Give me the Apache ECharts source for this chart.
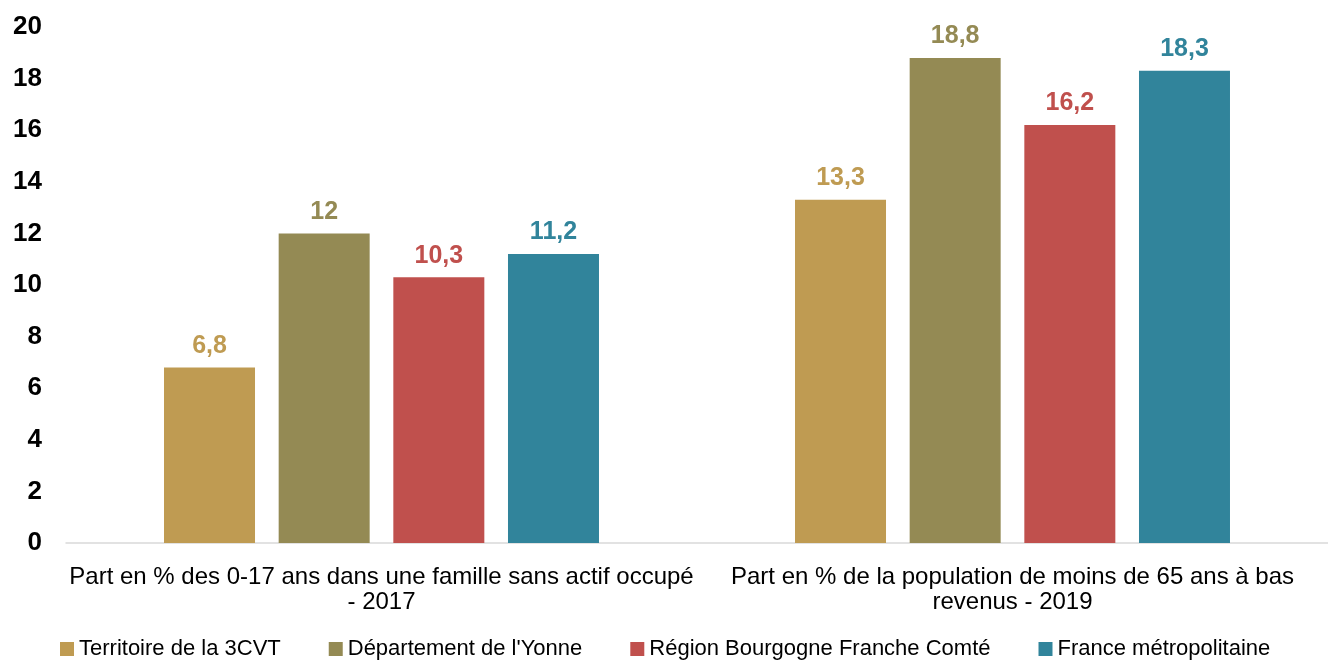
<!DOCTYPE html>
<html>
<head>
<meta charset="utf-8">
<script src="https://cdn.jsdelivr.net/npm/echarts@6/dist/echarts.min.js"></script>
<style>
  html, body { margin: 0; padding: 0; background: #ffffff; }
  #chart { width: 1328px; height: 662px; }
</style>
</head>
<body>
<div id="chart"></div>
<script>
// Indicator categories
const categories = [
  "Part en % des 0-17 ans dans une famille sans actif occupé\n- 2017",
  "Part en % de la population de moins de 65 ans à bas\nrevenus - 2019"
];

// One series per territory
const seriesNames = [
  "Territoire de la 3CVT",
  "Département de l'Yonne",
  "Région Bourgogne Franche Comté",
  "France métropolitaine"
];
const territoire3CVT = [6.8, 13.3];
const departementYonne = [12, 18.8];
const regionBFC = [10.3, 16.2];
const franceMetro = [11.2, 18.3];

const seriesColors = ["#BF9B52", "#948A54", "#C0504D", "#31849B"];
const seriesValues = [territoire3CVT, departementYonne, regionBFC, franceMetro];

const fmt = v => String(v).replace(".", ",");

const chart = echarts.init(document.getElementById("chart"));
chart.setOption({
  animation: false,
  textStyle: { fontFamily: "Liberation Sans, Arial, sans-serif" },
  legend: {
    top: 633,
    left: 55,
    itemWidth: 14,
    itemHeight: 14,
    itemGap: 48,
    icon: "rect",
    textStyle: { fontSize: 22, color: "#000", padding: [0, 0, 0, 0] },
    data: seriesNames
  },
  grid: { left: 66, top: 27, width: 1270, height: 516, containLabel: false },
  xAxis: {
    type: "category",
    data: categories,
    axisLine: { lineStyle: { color: "#d9d9d9", width: 1.5 } },
    axisTick: { show: false },
    axisLabel: { fontSize: 24, color: "#000", lineHeight: 25, margin: 22, interval: 0 }
  },
  yAxis: {
    type: "value",
    min: 0,
    max: 20,
    interval: 2,
    axisLine: { show: false },
    axisTick: { show: false },
    splitLine: { show: false },
    axisLabel: { fontSize: 26, fontWeight: "bold", color: "#000", margin: 24 }
  },
  series: seriesNames.map((name, i) => ({
    name: name,
    type: "bar",
    data: seriesValues[i],
    barWidth: 91,
    barGap: "26%",
    itemStyle: { color: seriesColors[i] },
    label: {
      show: true,
      position: "top",
      distance: 9,
      fontSize: 25,
      fontWeight: "bold",
      color: seriesColors[i],
      formatter: p => fmt(p.value)
    }
  }))
});
</script>
</body>
</html>
